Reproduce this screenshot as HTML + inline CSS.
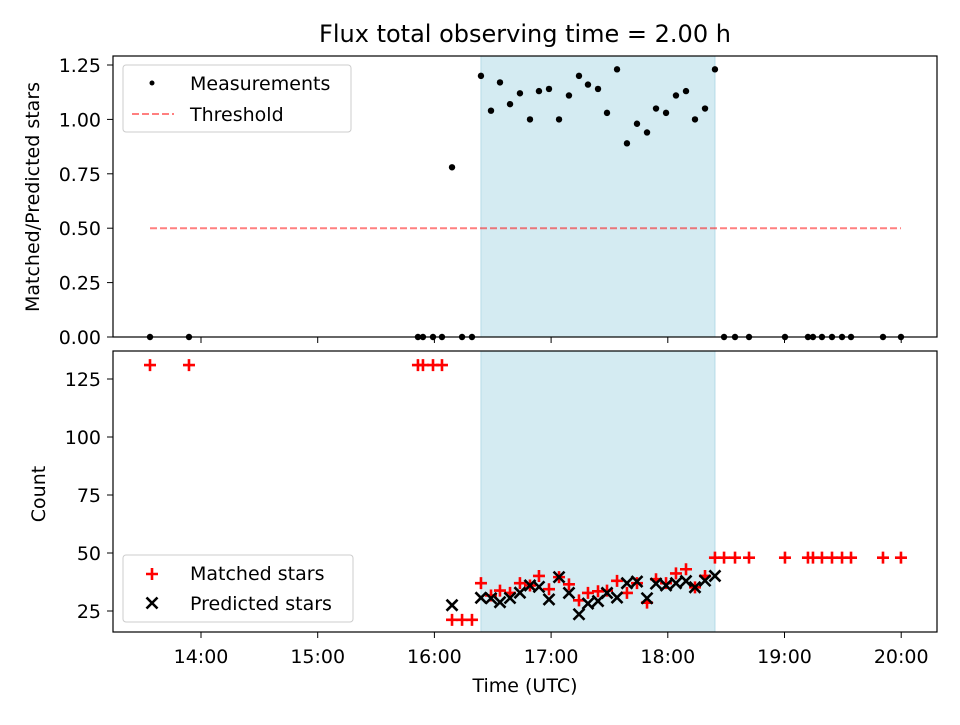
<!DOCTYPE html>
<html><head><meta charset="utf-8"><style>
body{margin:0;background:#fff}
svg{font-family:"DejaVu Sans","Liberation Sans",sans-serif}
</style></head><body>
<svg id="c" width="960" height="720"></svg>
<script>
const times=[13.563,13.897,15.859,15.902,15.988,16.065,16.151,16.237,16.322,16.399,16.485,16.562,16.648,16.733,16.819,16.896,16.982,17.068,17.153,17.239,17.316,17.402,17.479,17.565,17.650,17.736,17.822,17.899,17.985,18.070,18.156,18.233,18.319,18.404,18.482,18.576,18.696,19.004,19.201,19.244,19.321,19.407,19.493,19.570,19.844,19.998];
const matched=[131,131,131,131,131,131,21.2,21.2,21.2,37,31.7,33.8,32.8,37,36,40.1,34.4,39.6,36.5,29.6,32.8,33.5,33.8,38,32.8,37,28.6,38.7,37,41.2,43,35.2,40.1,48,48,48,48,48,48,48,48,48,48,48,48,48];
const predicted=[null,null,null,null,null,null,27.5,null,null,30.7,30.5,28.8,30.6,32.9,36,35.4,30,39.6,32.8,23.6,28.2,29.3,32.8,30.8,37,37.7,30.5,36.8,36,37,37.9,35.2,38.1,40.1,null,null,null,null,null,null,null,null,null,null,null,null,null];
const ratios=[0,0,0,0,0,0,0.78,0,0,1.20,1.04,1.17,1.07,1.12,1.00,1.13,1.14,1.00,1.11,1.20,1.16,1.14,1.03,1.23,0.89,0.98,0.94,1.05,1.03,1.11,1.13,1.00,1.05,1.23,0,0,0,0,0,0,0,0,0,0,0,0,0];
const threshold=0.5;
const shadeStart=16.399, shadeEnd=18.404;
const xTicks=[14,15,16,17,18,19,20];
const xTickLabels=["14:00","15:00","16:00","17:00","18:00","19:00","20:00"];
const yTopTicks=[0,0.25,0.5,0.75,1.0,1.25];
const yTopLabels=["0.00","0.25","0.50","0.75","1.00","1.25"];
const yBotTicks=[25,50,75,100,125];

const NS="http://www.w3.org/2000/svg";
const svg=document.getElementById('c');
function el(t,a,p){const e=document.createElementNS(NS,t);for(const k in a)e.setAttribute(k,a[k]);(p||svg).appendChild(e);return e;}
const L=113,R=937,FS=19;
const X=h=>201+(h-14)*116.7;
const Yt=v=>337-v*217.6;
const Yb=v=>611-(v-25)*2.32;
const topG=el('g',{});
const botG=el('g',{});
let s1=el('rect',{x:X(shadeStart),y:56,width:X(shadeEnd)-X(shadeStart),height:281,fill:'#d4ebf2',stroke:'#b5dbe8','stroke-width':1},topG);

let s2=el('rect',{x:X(shadeStart),y:351,width:X(shadeEnd)-X(shadeStart),height:281,fill:'#d4ebf2',stroke:'#b5dbe8','stroke-width':1},botG);

let th=el('line',{x1:X(13.563),x2:X(19.998),y1:Yt(threshold),y2:Yt(threshold),stroke:'#ff0000','stroke-opacity':0.5,'stroke-width':2,'stroke-dasharray':'7,3'},topG);

times.forEach((t,i)=>{const c=el('circle',{cx:X(t),cy:Yt(ratios[i]),r:3.2,fill:'#000'},topG);
});
times.forEach((t,i)=>{const x=X(t),y=Yb(matched[i]);
const g=el('path',{d:`M${x-6},${y}H${x+6}M${x},${y-6}V${y+6}`,stroke:'#ff0000','stroke-width':2.6},botG);
});
times.forEach((t,i)=>{if(predicted[i]==null)return;const x=X(t),y=Yb(predicted[i]);
const g=el('path',{d:`M${x-5.5},${y-5.5}L${x+5.5},${y+5.5}M${x-5.5},${y+5.5}L${x+5.5},${y-5.5}`,stroke:'#000','stroke-width':2.6},botG);
});
el('rect',{x:L,y:56,width:R-L,height:281,fill:'none',stroke:'#000','stroke-width':1.2},topG);
el('rect',{x:L,y:351,width:R-L,height:281,fill:'none',stroke:'#000','stroke-width':1.2},botG);
xTicks.forEach((h,i)=>{const x=X(h);
el('line',{x1:x,x2:x,y1:337,y2:343,stroke:'#000'},topG);
el('line',{x1:x,x2:x,y1:632,y2:638,stroke:'#000'},botG);
const t=el('text',{x:x,y:663,'font-size':FS,'text-anchor':'middle'},botG);t.textContent=xTickLabels[i];
});
yTopTicks.forEach((v,i)=>{const y=Yt(v);el('line',{x1:L-6,x2:L,y1:y,y2:y,stroke:'#000'},topG);
const t=el('text',{x:L-12,y:y+7,'font-size':FS,'text-anchor':'end'},topG);t.textContent=yTopLabels[i];
});
yBotTicks.forEach(v=>{const y=Yb(v);el('line',{x1:L-6,x2:L,y1:y,y2:y,stroke:'#000'},botG);
const t=el('text',{x:L-12,y:y+7,'font-size':FS,'text-anchor':'end'},botG);t.textContent=String(v);
});
</script>
<svg width="960" height="720" style="position:absolute;left:0;top:0">
<text x="525" y="42" font-size="24" text-anchor="middle">Flux total observing time = 2.00 h</text>
<text x="525" y="692" font-size="19" text-anchor="middle">Time (UTC)</text>
<text transform="translate(39,197) rotate(-90)" font-size="19" text-anchor="middle">Matched/Predicted stars</text>
<text transform="translate(45,494) rotate(-90)" font-size="19" text-anchor="middle">Count</text>
<g>
<rect x="123" y="65" width="228" height="67" rx="3" fill="#fff" fill-opacity="0.85" stroke="#ccc"/>
<circle cx="152" cy="83" r="2.5" fill="#000"/>
<text x="190" y="90" font-size="19">Measurements</text>
<line x1="132" x2="174" y1="114" y2="114" stroke="#f00" stroke-opacity="0.5" stroke-width="2" stroke-dasharray="7,3"/>
<text x="190" y="121" font-size="19">Threshold</text>
</g>
<g>
<rect x="123" y="555" width="230" height="67" rx="3" fill="#fff" fill-opacity="0.85" stroke="#ccc"/>
<path d="M146,574H158M152,568V580" stroke="#f00" stroke-width="2.6"/>
<text x="190" y="580" font-size="19">Matched stars</text>
<path d="M146.5,597.5L157.5,608.5M146.5,608.5L157.5,597.5" stroke="#000" stroke-width="2.6"/>
<text x="190" y="610" font-size="19">Predicted stars</text>
</g>
</svg>
</body></html>
